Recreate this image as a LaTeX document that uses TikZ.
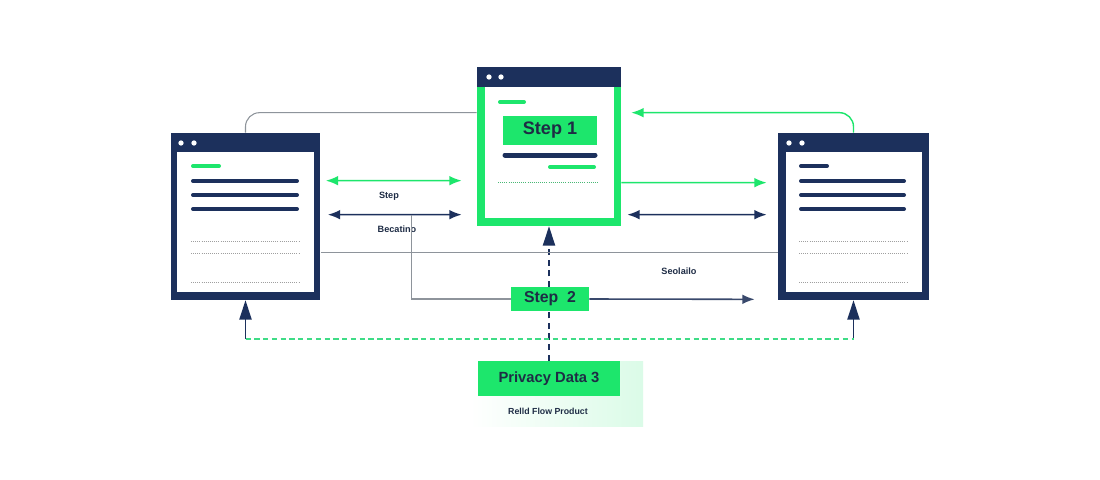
\documentclass[tikz,border=0pt]{standalone}
\usepackage{fontspec}
\setmainfont{Liberation Sans}
\usepackage{xcolor}
\usetikzlibrary{arrows.meta,calc,backgrounds}

\definecolor{navy}{HTML}{1C305C}
\definecolor{mint}{HTML}{1DE66C}
\definecolor{dashmint}{HTML}{3FDC86}
\definecolor{ink}{HTML}{1E2C45}
\definecolor{wiregray}{HTML}{8E949B}

\begin{document}
\begin{tikzpicture}[
    x=0.02cm, y=-0.02cm,
    window/.style={
        fill=navy,
        inner sep=0pt,
        minimum width=3cm,
        minimum height=3.34cm
    },
    bar/.style={navy, line width=0.08cm, line cap=round},
    gbar/.style={bar, mint},
    rule/.style={gray!75, line width=0.45pt, dash pattern=on 0.5pt off 0.7pt},
    tag/.style={fill=mint, text=ink, inner sep=0pt, font=\bfseries},
    note/.style={text=ink, font=\fontsize{5.2}{6}\selectfont\bfseries},
    wire/.style={draw=wiregray, line width=0.6pt},
    arrow/.style={-{Latex[length=7pt,width=5.5pt]}, line width=0.9pt},
    biarrow/.style={{Latex[length=7pt,width=5.5pt]}-{Latex[length=7pt,width=5.5pt]}, line width=0.9pt},
    uparrow/.style={-{Triangle[length=11pt,width=7pt]}, navy, line width=0.8pt}
]
\useasboundingbox (0,0) rectangle (1100,480);

% windows
\node[window] (leftwin) at (245.5,216.5) {};
\node[window, minimum width=3.02cm] (rightwin) at (853.5,216.5) {};
\node[window, fill=mint, minimum width=2.88cm, minimum height=3.18cm] (midwin) at (549,146.5) {};

\fill[white] ($(leftwin.north west)+(7,19)$) rectangle ($(leftwin.south east)+(-7,-8)$);
\fill[white] ($(rightwin.north west)+(8,19)$) rectangle ($(rightwin.south east)+(-7,-8)$);
\fill[navy] (midwin.north west) rectangle ($(midwin.north east)+(0,20)$);
\fill[white] ($(midwin.north west)+(8,20)$) rectangle ($(midwin.south east)+(-7,-8)$);

\foreach \x in {181,194,789,802} \fill[white] (\x,143) circle (1.5pt);
\foreach \x in {489,501} \fill[white] (\x,77) circle (1.5pt);

% window contents
\draw[gbar] (193,166) -- (219,166);
\draw[bar] (801,166) -- (827,166);
\foreach \y in {181,195,209} {
    \draw[bar] (193,\y) -- (297,\y);
    \draw[bar] (801,\y) -- (904,\y);
}
\foreach \y in {241,253,282} {
    \draw[rule] (191,\y) -- (299,\y);
    \draw[rule] (799,\y) -- (908,\y);
}

\draw[gbar] (500,102) -- (524,102);
\node[tag, minimum width=1.88cm, minimum height=0.58cm, font=\fontsize{10.3}{12}\selectfont\bfseries] (stepone) at (550,130.5) {Step 1};
\draw[bar, line width=0.1cm] (505,155) -- (595,155);
\draw[gbar] (550,167) -- (594,167);
\draw[rule, mint!55!gray] (498,182) -- (598,182);

% tags and labels
\node[tag, minimum width=1.56cm, minimum height=0.48cm, font=\fontsize{9}{11}\selectfont\bfseries] (steptwo) at (550,299) {Step\ \ 2};
\node[tag, minimum width=2.86cm, minimum height=0.7cm, font=\fontsize{8.4}{10}\selectfont\bfseries] (privacy) at (549,378.5) {Privacy Data 3};

\node[note] (steplabel) at (389,196) {Step};
\node[note] (becatlabel) at (397,229) {Becatino};
\node[note] (seolabel) at (679,271) {Seolailo};
\node[note, font=\fontsize{5}{6}\selectfont\bfseries] (productlabel) at (548,411) {Relld Flow Product};

% connectors
\draw[wire, rounded corners=8] (leftwin.north) |- ($(midwin.north west)+(0,46)$);
\draw[mint, line width=0.8pt, rounded corners=8, -{Latex[length=7pt,width=5.5pt]}] (rightwin.north) |- ($(midwin.north east)+(10,46)$);

\draw[mint, biarrow] ($(leftwin.north east)+(5,48)$) -- ($(midwin.north west)+(-15,114)$);
\draw[navy, biarrow] ($(leftwin.north east)+(7,82)$) -- ($(midwin.north west)+(-15,148)$);
\draw[mint, arrow] ($(midwin.north east)+(0,116)$) -- ($(rightwin.north west)+(-11,50)$);
\draw[navy, biarrow] ($(midwin.north east)+(6,148)$) -- ($(rightwin.north west)+(-11,82)$);

\draw[wire, line width=0.9pt] ($(leftwin.north east)+(0,120)$) -- ($(rightwin.north west)+(0,120)$);
\draw[wire] ($(leftwin.north east)+(91,82)$) |- (steptwo.west);
\draw[arrow, navy!75!wiregray] (steptwo.east) -- ($(rightwin.south west)+(-23,-1)$);

\draw[uparrow] ($(leftwin.south)+(0,39)$) -- (leftwin.south);
\draw[uparrow] ($(rightwin.south)+(0,39)$) -- (rightwin.south);
\draw[draw=dashmint, line width=1.1pt, dash pattern=on 3pt off 2pt] ($(leftwin.south)+(0,39)$) -- ($(rightwin.south)+(0,39)$);

\begin{pgfonlayer}{background}
\fill[white] (0,0) rectangle (1100,480);
\shade[left color=white, right color=mint!16] (470,361) rectangle (643,426);
\draw[uparrow, dash pattern=on 3.5pt off 2.5pt] (privacy.north) -- (midwin.south);
\end{pgfonlayer}
\end{tikzpicture}
\end{document}
